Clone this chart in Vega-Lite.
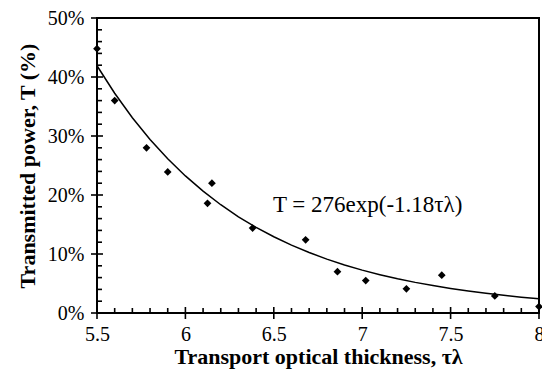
{
  "$schema": "https://vega.github.io/schema/vega-lite/v6.json",
  "width": 442,
  "height": 295,
  "autosize": {"type": "none"},
  "padding": {"left": 97, "top": 18, "right": 3, "bottom": 56},
  "background": "white",
  "config": {
    "view": {"stroke": "#000", "strokeWidth": 2},
    "font": "Liberation Serif"
  },
  "datasets": {
    "curve": [
      {"tau": 5.5, "T": 41.91}, {"tau": 5.6, "T": 37.25}, {"tau": 5.7, "T": 33.10},
      {"tau": 5.8, "T": 29.42}, {"tau": 5.9, "T": 26.14}, {"tau": 6.0, "T": 23.23},
      {"tau": 6.1, "T": 20.65}, {"tau": 6.2, "T": 18.35}, {"tau": 6.3, "T": 16.31},
      {"tau": 6.4, "T": 14.52}, {"tau": 6.5, "T": 12.92}, {"tau": 6.6, "T": 11.5},
      {"tau": 6.7, "T": 10.25}, {"tau": 6.8, "T": 9.13}, {"tau": 6.9, "T": 8.14},
      {"tau": 7.0, "T": 7.27}, {"tau": 7.1, "T": 6.5}, {"tau": 7.2, "T": 5.8},
      {"tau": 7.3, "T": 5.19}, {"tau": 7.4, "T": 4.65}, {"tau": 7.5, "T": 4.17},
      {"tau": 7.6, "T": 3.74}, {"tau": 7.7, "T": 3.35}, {"tau": 7.8, "T": 3.0},
      {"tau": 7.9, "T": 2.68}, {"tau": 8.0, "T": 2.4}
    ],
    "points": [
      {"tau": 5.5, "T": 44.8}, {"tau": 5.6, "T": 36.0}, {"tau": 5.78, "T": 28.0},
      {"tau": 5.9, "T": 23.9}, {"tau": 6.15, "T": 22.0}, {"tau": 6.125, "T": 18.6},
      {"tau": 6.38, "T": 14.4}, {"tau": 6.68, "T": 12.4}, {"tau": 6.86, "T": 7.0},
      {"tau": 7.02, "T": 5.5}, {"tau": 7.25, "T": 4.1}, {"tau": 7.45, "T": 6.4},
      {"tau": 7.75, "T": 2.9}, {"tau": 8.0, "T": 1.1}
    ],
    "xmajor": [{"v": 5.5}, {"v": 6.0}, {"v": 6.5}, {"v": 7.0}, {"v": 7.5}, {"v": 8.0}],
    "xminor": [
      {"v": 5.6}, {"v": 5.7}, {"v": 5.8}, {"v": 5.9}, {"v": 6.1}, {"v": 6.2}, {"v": 6.3}, {"v": 6.4},
      {"v": 6.6}, {"v": 6.7}, {"v": 6.8}, {"v": 6.9}, {"v": 7.1}, {"v": 7.2}, {"v": 7.3}, {"v": 7.4},
      {"v": 7.6}, {"v": 7.7}, {"v": 7.8}, {"v": 7.9}
    ],
    "ymajor": [{"v": 0}, {"v": 10}, {"v": 20}, {"v": 30}, {"v": 40}, {"v": 50}],
    "yminor": [
      {"v": 2}, {"v": 4}, {"v": 6}, {"v": 8}, {"v": 12}, {"v": 14}, {"v": 16}, {"v": 18},
      {"v": 22}, {"v": 24}, {"v": 26}, {"v": 28}, {"v": 32}, {"v": 34}, {"v": 36}, {"v": 38},
      {"v": 42}, {"v": 44}, {"v": 46}, {"v": 48}
    ],
    "note": [
      {"tau": 6.495, "T": 18.3, "label": "T = 276exp(-1.18τλ)"}
    ]
  },
  "layer": [
    {
      "data": {"name": "points"},
      "mark": {"type": "point", "shape": "diamond", "filled": true, "color": "#000", "opacity": 1, "size": 60},
      "encoding": {
        "x": {
          "field": "tau", "type": "quantitative",
          "scale": {"domain": [5.5, 8], "nice": false, "zero": false},
          "axis": {
            "orient": "bottom",
            "values": [5.5, 6, 6.5, 7, 7.5, 8],
            "grid": false,
            "domain": false,
            "ticks": false,
            "tickSize": 6,
            "labelFont": "Liberation Serif",
            "labelFontSize": 20,
            "labelColor": "#000",
            "labelPadding": 11,
            "labelFlush": false,
            "labelExpr": "format(datum.value, '~g')",
            "title": "Transport  optical thickness, τλ",
            "titleFont": "Liberation Serif",
            "titleFontSize": 22,
            "titleFontWeight": "bold",
            "titleColor": "#000",
            "titlePadding": 2
          }
        },
        "y": {
          "field": "T", "type": "quantitative",
          "scale": {"domain": [0, 50], "nice": false},
          "axis": {
            "orient": "left",
            "values": [0, 10, 20, 30, 40, 50],
            "grid": false,
            "domain": false,
            "ticks": false,
            "tickSize": 6,
            "labelFont": "Liberation Serif",
            "labelFontSize": 20,
            "labelColor": "#000",
            "labelPadding": 13,
            "labelExpr": "datum.value + '%'",
            "title": "Transmitted  power, T (%)",
            "titleFont": "Liberation Serif",
            "titleFontSize": 22,
            "titleFontWeight": "bold",
            "titleColor": "#000",
            "titlePadding": 8
          }
        }
      }
    },
    {
      "data": {"name": "curve"},
      "mark": {"type": "line", "color": "#000", "strokeWidth": 1.5},
      "encoding": {
        "x": {"field": "tau", "type": "quantitative"},
        "y": {"field": "T", "type": "quantitative"}
      }
    },
    {
      "data": {"name": "xmajor"},
      "mark": {"type": "tick", "orient": "vertical", "color": "#000", "opacity": 1, "size": 12, "thickness": 1.6, "clip": false},
      "encoding": {
        "x": {"field": "v", "type": "quantitative"},
        "y": {"datum": 0}
      }
    },
    {
      "data": {"name": "xminor"},
      "mark": {"type": "tick", "orient": "vertical", "color": "#000", "opacity": 1, "size": 5, "thickness": 1.6, "yOffset": -2.5, "clip": false},
      "encoding": {
        "x": {"field": "v", "type": "quantitative"},
        "y": {"datum": 0}
      }
    },
    {
      "data": {"name": "ymajor"},
      "mark": {"type": "tick", "orient": "horizontal", "color": "#000", "opacity": 1, "size": 12, "thickness": 1.6, "clip": false},
      "encoding": {
        "y": {"field": "v", "type": "quantitative"},
        "x": {"datum": 5.5}
      }
    },
    {
      "data": {"name": "yminor"},
      "mark": {"type": "tick", "orient": "horizontal", "color": "#000", "opacity": 1, "size": 5, "thickness": 1.6, "xOffset": 2.5, "clip": false},
      "encoding": {
        "y": {"field": "v", "type": "quantitative"},
        "x": {"datum": 5.5}
      }
    },
    {
      "data": {"name": "note"},
      "mark": {"type": "text", "align": "left", "baseline": "middle", "fontSize": 23, "font": "Liberation Serif", "color": "#000"},
      "encoding": {
        "x": {"field": "tau", "type": "quantitative"},
        "y": {"field": "T", "type": "quantitative"},
        "text": {"field": "label"}
      }
    }
  ]
}
